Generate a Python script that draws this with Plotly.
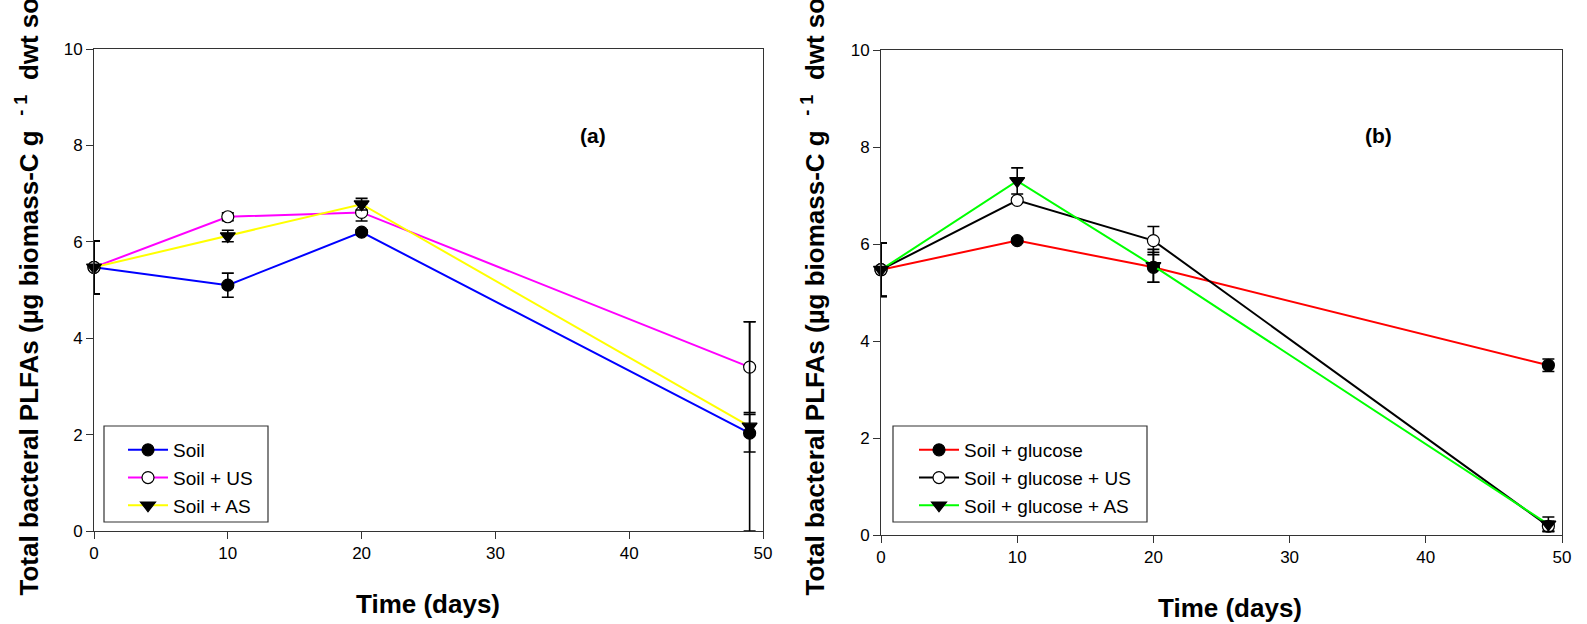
import plotly.graph_objects as go

# ---------------- data ----------------
days = [0, 10, 20, 49]

# panel (a)
soil = [5.47, 5.10, 6.20, 2.03]
soil_err = [0.55, 0.25, 0.05, 0.39]
soil_us = [5.47, 6.52, 6.61, 3.40]
soil_us_err = [0.55, 0.08, 0.18, 0.94]
soil_as = [5.47, 6.12, 6.78, 2.17]
soil_as_err = [0.55, 0.12, 0.12, 2.17]

# panel (b)
glu = [5.47, 6.07, 5.52, 3.50]
glu_err = [0.55, 0.05, 0.31, 0.13]
glu_us = [5.47, 6.90, 6.07, 0.18]
glu_us_err = [0.55, 0.05, 0.29, 0.10]
glu_as = [5.47, 7.30, 5.55, 0.22]
glu_as_err = [0.55, 0.27, 0.34, 0.15]

names_a = ["Soil", "Soil + US", "Soil + AS"]
names_b = ["Soil + glucose", "Soil + glucose + US", "Soil + glucose + AS"]
x_ticks = [0, 10, 20, 30, 40, 50]
y_ticks = [0, 2, 4, 6, 8, 10]

W, H = 1587, 624
FONT = "Arial, Liberation Sans, sans-serif"

fig = go.Figure()

def add(x, y, err, name, color, symbol, fill, xa, ya, legend):
    fig.add_trace(go.Scatter(
        x=x, y=y, name=name, mode="lines+markers",
        xaxis=xa, yaxis=ya, legend=legend,
        line=dict(color=color, width=2),
        marker=dict(symbol=symbol, size=12 if symbol == "circle" else 13,
                    color=fill, line=dict(color="black", width=1.2)),
        error_y=dict(type="data", array=err, visible=True, color="black",
                     thickness=1.6, width=6),
        cliponaxis=False,
    ))

add(days, soil, soil_err, names_a[0], "#0000ff", "circle", "black", "x", "y", "legend")
add(days, soil_us, soil_us_err, names_a[1], "#ff00ff", "circle", "white", "x", "y", "legend")
add(days, soil_as, soil_as_err, names_a[2], "#ffff00", "triangle-down", "black", "x", "y", "legend")

add(days, glu, glu_err, names_b[0], "#ff0000", "circle", "black", "x2", "y2", "legend2")
add(days, glu_us, glu_us_err, names_b[1], "#000000", "circle", "white", "x2", "y2", "legend2")
add(days, glu_as, glu_as_err, names_b[2], "#00ff00", "triangle-down", "black", "x2", "y2", "legend2")

def px_x(p):
    return p / W

def px_y(p):
    return 1 - p / H

axis_common = dict(
    showline=True, linecolor="#333333", linewidth=1, mirror=True,
    ticks="outside", ticklen=7, tickwidth=1, tickcolor="#333333",
    showgrid=False, zeroline=False, automargin=False,
    tickfont=dict(family=FONT, size=17, color="black"),
)

legend_common = dict(xanchor="left", yanchor="top",
                     bgcolor="rgba(0,0,0,0)", borderwidth=0,
                     font=dict(family=FONT, size=19, color="black"),
                     tracegroupgap=0, itemwidth=40)

fig.update_layout(
    width=W, height=H,
    margin=dict(l=0, r=0, t=0, b=0, pad=0, autoexpand=False),
    paper_bgcolor="white", plot_bgcolor="white",
    showlegend=True,
    xaxis=dict(domain=[px_x(94), px_x(763)], range=[0, 50], tickvals=x_ticks, anchor="y", **axis_common),
    yaxis=dict(domain=[px_y(531), px_y(49)], range=[0, 10], tickvals=y_ticks, anchor="x", **axis_common),
    xaxis2=dict(domain=[px_x(881), px_x(1562)], range=[0, 50], tickvals=x_ticks, anchor="y2", **axis_common),
    yaxis2=dict(domain=[px_y(535), px_y(50)], range=[0, 10], tickvals=y_ticks, anchor="x2", **axis_common),
    legend=dict(x=px_x(123), y=px_y(431), **legend_common),
    legend2=dict(x=px_x(914), y=px_y(431), **legend_common),
    shapes=[
        dict(type="rect", xref="paper", yref="paper",
             x0=px_x(104), x1=px_x(268), y0=px_y(522), y1=px_y(426),
             line=dict(color="#333333", width=1.2), fillcolor="rgba(0,0,0,0)"),
        dict(type="rect", xref="paper", yref="paper",
             x0=px_x(893), x1=px_x(1147), y0=px_y(522), y1=px_y(426),
             line=dict(color="#333333", width=1.2), fillcolor="rgba(0,0,0,0)"),
    ],
)

NB = "\u00a0"
ytitle = ("Total bacteral PLFAs (\u00b5g biomass-C g" + NB + NB
          + "<sup>-" + NB + "1</sup>" + NB + NB + "dwt soil)")
ann = []
for xc, yb in [(28, 598), (814, 598)]:
    ann.append(dict(text="<b>" + ytitle + "</b>", xref="paper", yref="paper",
                    x=px_x(xc), y=px_y(yb), xanchor="center", yanchor="bottom",
                    textangle=-90, showarrow=False,
                    font=dict(family=FONT, size=26, color="black")))
for xc, yc in [(428, 604), (1230, 608)]:
    ann.append(dict(text="<b>Time (days)</b>", xref="paper", yref="paper",
                    x=px_x(xc), y=px_y(yc), xanchor="center", yanchor="middle",
                    showarrow=False, font=dict(family=FONT, size=26, color="black")))
for t, xc in [("(a)", 593), ("(b)", 1378)]:
    ann.append(dict(text="<b>" + t + "</b>", xref="paper", yref="paper",
                    x=px_x(xc), y=px_y(135), xanchor="center", yanchor="middle",
                    showarrow=False, font=dict(family=FONT, size=21, color="black")))
fig.update_layout(annotations=ann)

fig.write_html("out.html")
